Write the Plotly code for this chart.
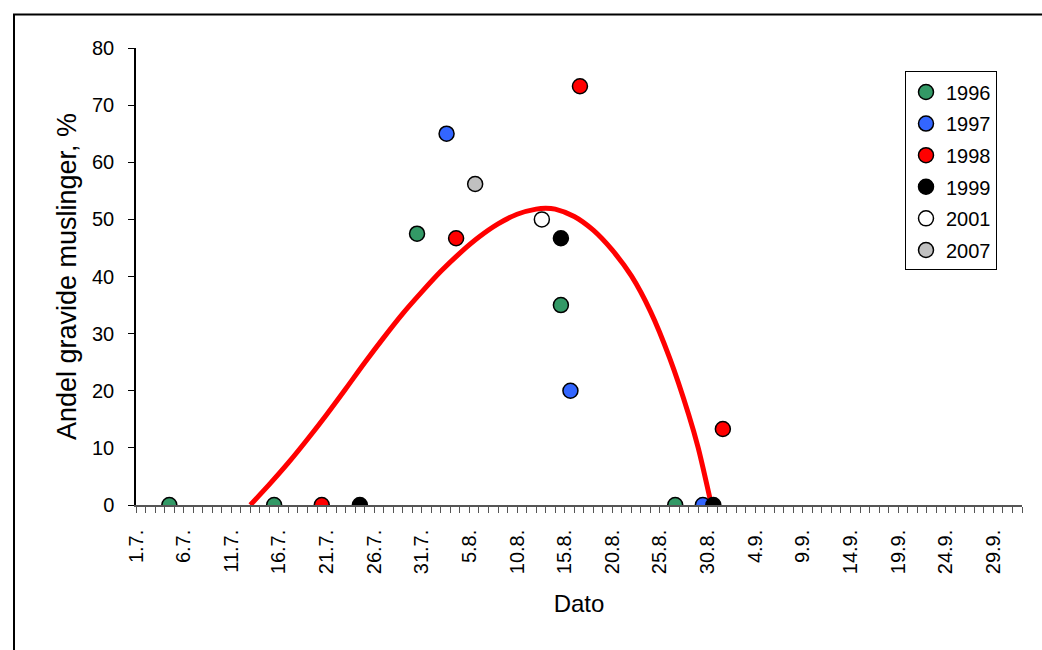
import plotly.graph_objects as go

# ---- data (x = days after 1 July; 1.7. = 0) ----
tick_days = [0, 5, 10, 15, 20, 25, 30, 35, 40, 45, 50, 55, 60, 65, 70, 75, 80, 85, 90]
tick_labels = ["1.7.", "6.7.", "11.7.", "16.7.", "21.7.", "26.7.", "31.7.", "5.8.",
               "10.8.", "15.8.", "20.8.", "25.8.", "30.8.", "4.9.", "9.9.", "14.9.",
               "19.9.", "24.9.", "29.9."]

x_1996 = [3.5, 14.5, 29.5, 44.6, 56.6]
y_1996 = [0, 0, 47.5, 35.0, 0]
x_1997 = [32.6, 45.6, 59.5]
y_1997 = [65.0, 20.0, 0]
x_1998 = [19.5, 33.6, 46.6, 61.6]
y_1998 = [0, 46.7, 73.3, 13.3]
x_1999 = [23.5, 44.6, 60.6]
y_1999 = [0, 46.7, 0]
x_2001 = [42.6]
y_2001 = [50.0]
x_2007 = [35.6]
y_2007 = [56.2]

curve_x = [12.0, 14.0, 16.0, 18.0, 20.0, 22.0, 24.0, 26.0, 28.0, 30.0, 32.0, 34.0,
           36.0, 38.0, 40.0, 42.0, 43.0, 44.0, 46.0, 48.0, 50.0, 52.0, 54.0, 56.0,
           58.0, 59.0, 60.4]
curve_y = [0, 3.6, 7.4, 11.5, 15.8, 20.3, 24.9, 29.3, 33.5, 37.3, 40.9, 44.1,
           46.9, 49.2, 50.9, 51.8, 51.95, 51.8, 50.5, 48.1, 44.6, 40.1, 33.9, 25.8,
           15.9, 10.1, 0]

series = [
    ("1996", x_1996, y_1996, "#339966"),
    ("1997", x_1997, y_1997, "#3366FF"),
    ("1998", x_1998, y_1998, "#FF0000"),
    ("1999", x_1999, y_1999, "#000000"),
    ("2001", x_2001, y_2001, "#FFFFFF"),
    ("2007", x_2007, y_2007, "#C0C0C0"),
]

FONT = "Arial, Liberation Sans, sans-serif"

fig = go.Figure()
fig.add_trace(go.Scatter(x=curve_x, y=curve_y, mode="lines", showlegend=False,
                         line=dict(color="#FF0000", width=5, shape="spline", smoothing=0.8),
                         hoverinfo="skip"))
for name, xs, ys, col in series:
    fig.add_trace(go.Scatter(x=xs, y=ys, mode="markers", name=name,
                             legendgroup=name,
                             marker=dict(size=15, color=col,
                                         line=dict(color="black", width=1.5))))

# body margin is removed (post_script), so figure coords = screen coords
W, H = 1042, 650
L, T = 136, 47.5
plot_right, plot_bottom = 1022, 505
R, B = W - plot_right, H - plot_bottom
pw = plot_right - L
ph = plot_bottom - T

fig.update_layout(
    width=W, height=H,
    margin=dict(l=L, r=R, t=T, b=B, autoexpand=False),
    paper_bgcolor="white", plot_bgcolor="white",
    font=dict(family=FONT, size=20, color="black"),
    showlegend=True,
    legend=dict(x=(905 - L) / pw, y=(plot_bottom - 71) / ph, xanchor="left", yanchor="top",
                bgcolor="white", bordercolor="black", borderwidth=1,
                font=dict(size=20), tracegroupgap=2.6, itemwidth=30),
    xaxis=dict(range=[0, 93], tickmode="array", tickvals=tick_days, ticktext=tick_labels,
               tickangle=-90, ticks="outside", ticklen=6, tickcolor="#555",
               ticklabelstandoff=9,
               showline=True, linecolor="#555", linewidth=1.5,
               showgrid=False, zeroline=False,
               minor=dict(tickmode="linear", tick0=0, dtick=1, ticks="outside",
                          ticklen=6, tickcolor="#555"),
               title=dict(text="Dato", font=dict(size=24), standoff=22),
               tickfont=dict(size=20)),
    yaxis=dict(range=[0, 80], tickmode="linear", tick0=0, dtick=10,
               ticks="outside", ticklen=6, tickcolor="black",
               ticklabelstandoff=10,
               showline=True, linecolor="black", linewidth=1.5,
               showgrid=False, zeroline=False,
               title=dict(text="Andel gravide muslinger, %", font=dict(size=27), standoff=8),
               tickfont=dict(size=20)),
    shapes=[dict(type="rect", xref="paper", yref="paper",
                 x0=(14 - L) / pw, x1=(W + 20 - L) / pw,
                 y0=-(H + 20 - plot_bottom) / ph, y1=(plot_bottom - 14) / ph,
                 line=dict(color="black", width=2), fillcolor="rgba(0,0,0,0)",
                 layer="below")],
)

fig.write_html("out.html", config={"displayModeBar": False},
               post_script="document.body.style.margin='0';document.body.style.overflow='hidden';")
